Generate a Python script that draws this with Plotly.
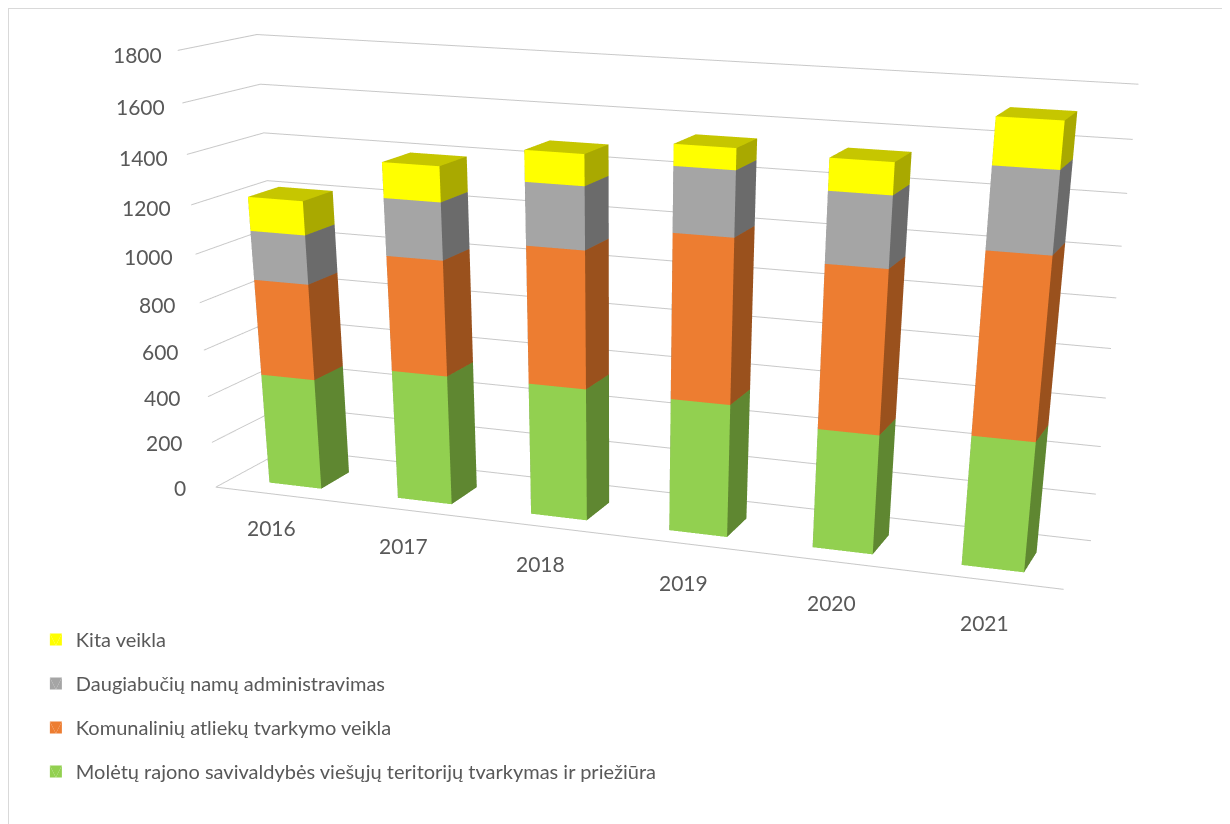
import plotly.graph_objects as go

years = ["2016", "2017", "2018", "2019", "2020", "2021"]
series_names = ["Molėtų rajono savivaldybės viešųjų teritorijų tvarkymas ir priežiūra",
                "Komunalinių atliekų tvarkymo veikla",
                "Daugiabučių namų administravimas",
                "Kita veikla"]
moletu = [479, 553, 558, 554, 493, 530]
komunaline = [403, 476, 559, 659, 649, 710]
daugiabuciai = [202, 231, 248, 253, 273, 308]
kita = [138, 141, 122, 82, 121, 173]
z_ticks = [0, 200, 400, 600, 800, 1000, 1200, 1400, 1600, 1800]

front_colors = ["#92D050", "#ED7D31", "#A5A5A5", "#FFFF00"]
side_colors = ["#5F8731", "#9A511D", "#6B6B6B", "#A9A900"]
top_colors = ["#75A640", "#BE6427", "#848484", "#C6C600"]

BAR_HALF = 0.204
Y0, Y1 = 0.224, 0.638
FIG_W, FIG_H = 1222, 1816

fig = go.Figure()
base = [0] * len(years)
for rank, (name, vals, fc, sc, tc) in enumerate(zip(series_names, [moletu, komunaline, daugiabuciai, kita],
                                  front_colors, side_colors, top_colors)):
    xs, ys, zs = [], [], []
    fronts, rest, fcols, rcols = [], [], [], []
    for i, v in enumerate(vals):
        n = len(xs)
        x0, x1 = i + 0.5 - BAR_HALF, i + 0.5 + BAR_HALF
        z0, z1 = base[i], base[i] + v
        xs += [x0, x1, x1, x0, x0, x1, x1, x0]
        ys += [Y0, Y0, Y1, Y1, Y0, Y0, Y1, Y1]
        zs += [z0, z0, z0, z0, z1, z1, z1, z1]
        fronts += [(n, n + 1, n + 5), (n, n + 5, n + 4)]
        fcols += [fc, fc]
        rest += [(n + 1, n + 2, n + 6), (n + 1, n + 6, n + 5), (n + 4, n + 5, n + 6), (n + 4, n + 6, n + 7),
                 (n, n + 3, n + 7), (n, n + 7, n + 4), (n + 2, n + 3, n + 7), (n + 2, n + 7, n + 6)]
        rcols += [sc, sc, tc, tc, sc, sc, sc, sc]
        base[i] += v
    tri = fronts + rest
    fig.add_trace(go.Mesh3d(x=xs, y=ys, z=zs,
                            i=[t[0] for t in tri], j=[t[1] for t in tri], k=[t[2] for t in tri],
                            facecolor=fcols + rcols, flatshading=True,
                            lighting=dict(ambient=1, diffuse=0, specular=0, roughness=1, fresnel=0),
                            name=name, showlegend=True, legendgroup=name, legendrank=10 - rank, hoverinfo="skip"))

ann = [dict(x=0, y=0, z=t, text=str(t), showarrow=False, xanchor="right",
            xshift=-28 + 14 * t / 1800, yshift=-4 * t / 1800,
            font=dict(family="Lato", size=21, color="#595959")) for t in z_ticks]
ann += [dict(x=i + 0.5, y=0, z=0, text=y, showarrow=False, xshift=-8 + 1.5 * i, yshift=-33 - 2 * i,
             font=dict(family="Lato", size=21, color="#595959")) for i, y in enumerate(years)]

axis_off = dict(showbackground=False, showgrid=False, zeroline=False, showticklabels=False,
                showspikes=False, title="", ticks="")
fig.update_layout(
    width=FIG_W, height=FIG_H, margin=dict(l=0, r=0, t=0, b=0),
    paper_bgcolor="white", plot_bgcolor="white",
    scene=dict(
        domain=dict(x=[144 / FIG_W, 1], y=[0, 1]),
        xaxis=dict(axis_off, range=[0, 6], showline=True, linecolor="#C8C8C8", linewidth=2),
        yaxis=dict(axis_off, range=[0, 1], showline=False),
        zaxis=dict(axis_off, range=[0, 1800], tickvals=z_ticks, showgrid=True,
                   gridcolor="#C8C8C8", gridwidth=2, showline=False),
        aspectmode="manual", aspectratio=dict(x=0.9894, y=0.1728, z=0.4743),
        camera=dict(eye=dict(x=0.808, y=-2.2702, z=0.5121),
                    center=dict(x=0.1306, y=-0.1962, z=-0.6317),
                    up=dict(x=-0.1609, y=0.4358, z=0.8855),
                    projection=dict(type="perspective")),
        annotations=ann,
    ),
    legend=dict(x=0.0228, y=1 - 612 / FIG_H, xanchor="left", yanchor="top", traceorder="grouped",
                tracegroupgap=15, bgcolor="rgba(0,0,0,0)",
                font=dict(family="Lato", size=20, color="#595959")),
    shapes=[dict(type="rect", xref="paper", yref="paper", x0=0, x1=1, y0=0, y1=1,
                 line=dict(color="#D9D9D9", width=2), fillcolor="rgba(0,0,0,0)")],
)
fig.write_html("out.html")
